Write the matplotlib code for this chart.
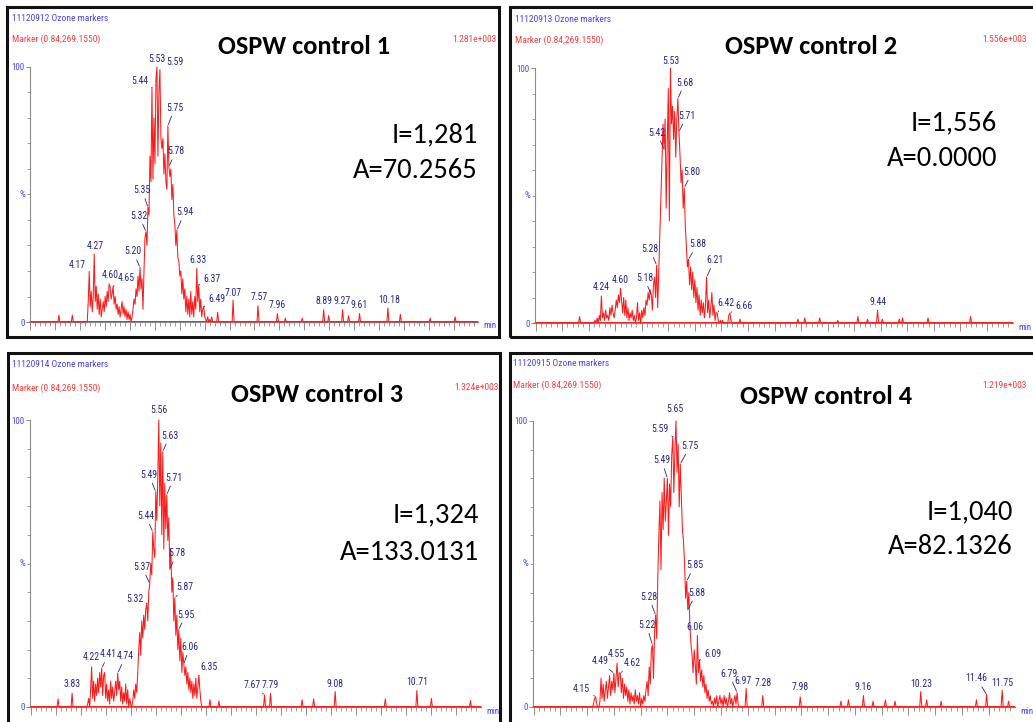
import numpy as np
import matplotlib
matplotlib.use('Agg')
import matplotlib.pyplot as plt
from matplotlib import font_manager as fm
from matplotlib.patches import Rectangle
from matplotlib.ticker import MultipleLocator

# ---------------- data ----------------
X_MIN, X_MAX = 2.99, 11.99          # retention time axis (min)
MAIN_T0 = 4.10                       # first scan of the tabulated main region
SCAN_STEP = 0.02                     # scan spacing (min)

sample_ids = ['11120912', '11120913', '11120914', '11120915']
panel_titles = ['OSPW control 1', 'OSPW control 2', 'OSPW control 3', 'OSPW control 4']
marker_text = 'Marker (0.84,269.1550)'
full_scale = ['1.281e+003', '1.556e+003', '1.324e+003', '1.219e+003']
intensity_text = ['I=1,281', 'I=1,556', 'I=1,324', 'I=1,040']
area_text = ['A=70.2565', 'A=0.0000', 'A=133.0131', 'A=82.1326']

# relative intensity (%) of the main elution region, one value per scan from 4.10 min
p1_main = [0, 0, 0, 8, 19.7, 6, 12, 4, 10, 26.6,
           8, 14, 5, 11, 3, 9, 2, 5, 8, 4,
           10, 6, 12, 8, 15, 13.8, 9, 11, 14, 7,
           10, 5, 7, 3, 6, 2, 5, 8, 3, 6,
           2, 5, 1, 4, 1, 3, 0, 2, 5, 9,
           7, 13, 10, 18, 12, 21.4, 13, 17, 5, 20,
           33, 35.4, 30, 45, 42, 65, 55, 92, 56, 80,
           62, 95, 100, 65, 90, 99, 72, 68, 72, 58,
           66, 55, 52, 77, 61, 57, 60, 48, 54, 42,
           38, 30, 36, 25, 24, 18, 20, 11, 17, 9,
           13, 4, 10, 3, 9, 2, 12, 3, 8, 2,
           10, 5, 21, 8, 14.5, 4, 9, 2, 5, 6,
           2, 1, 0, 2, 0, 1, 0, 2, 0, 0,
           0]
p2_main = [0, 1, 0, 2, 0, 3, 1, 10.6, 2, 4,
           1, 5, 2, 3, 1, 6, 3, 7, 4, 2,
           5, 9, 6, 11, 8, 13.6, 9, 4, 10, 3,
           9, 2, 6, 1, 4, 2, 5, 1, 3, 0,
           2, 8, 1, 4, 0, 5, 2, 6, 3, 9,
           7, 12, 9, 13, 11, 5, 15, 18, 10, 22.7,
           6, 20, 35, 48, 63, 78, 68, 80, 45, 70,
           92, 40, 100, 78, 85, 72, 83, 65, 80, 88,
           75, 66, 55, 60, 45, 53, 38, 30, 22, 25,
           15, 22, 13, 20, 10, 17, 8, 14, 5, 11,
           3, 9, 4, 8, 2, 7, 18, 4, 9, 2,
           6, 12, 3, 7, 1, 4, 4, 1, 0, 1,
           0, 1, 0, 0, 0, 0, 0, 3, 4, 1,
           0]
p3_main = [0, 0, 1, 3, 0, 6, 14, 3, 9, 2,
           8, 4, 10, 5, 12, 7, 13.5, 4, 11, 12,
           3, 8, 2, 6, 1, 9, 3, 7, 2, 5,
           9, 4, 11.8, 6, 9, 2, 7, 1, 5, 2,
           8, 1, 6, 0, 3, 1, 0, 2, 6, 3,
           8, 5, 12, 20, 26, 18, 30, 24, 32, 27,
           34, 36, 30, 40, 43, 50, 46, 61, 55, 52,
           75, 65, 80, 100, 70, 92, 60, 89, 55, 78,
           62, 74, 58, 66, 48, 55, 40, 45, 30, 38,
           25, 32, 20, 27, 16, 24, 12, 19, 15, 11,
           14, 8, 12, 6, 10, 5, 9, 3, 8, 4,
           10, 3, 7, 11, 6, 2, 0, 0, 0, 0,
           0, 0, 0, 0, 2.6, 0, 0, 0, 0, 0,
           0]
p4_main = [0, 1, 3, 3.6, 1, 0, 0, 2, 10, 3,
           8, 2, 6, 9, 3, 7, 11, 4, 9, 6,
           11.8, 5, 10, 15.3, 7, 12, 11.8, 5, 10, 3,
           8, 4, 7, 2, 6, 1, 5, 2, 4, 1,
           6, 2, 4, 1, 5, 0, 3, 1, 4, 2,
           6, 9, 4, 14, 8, 20, 21.7, 10, 26, 32.2,
           24, 45, 60, 72, 48, 75, 62, 80, 65, 72,
           80, 60, 78, 70, 88, 94.5, 75, 90, 100, 82,
           92, 70, 85, 73.5, 62, 58, 50, 38, 44, 34,
           40, 28, 22, 18, 12, 20, 15, 8, 25, 12,
           16.4, 9, 13, 7, 11, 5, 8, 3, 6, 2,
           4, 1, 2, 0, 3, 1, 4, 0, 2, 4,
           1, 3, 0, 4, 1, 3, 0, 2, 5, 1,
           3, 0, 2, 4, 1, 5, 1, 0, 0, 0,
           0]

# isolated small peaks outside the main region: retention time (min) and height (%)
p1_spike_t = [3.57, 3.84, 6.76, 7.07, 7.57, 7.96, 8.12, 8.46, 8.89, 8.99, 9.27, 9.39, 9.61, 10.18, 10.43, 11.03, 11.53]
p1_spike_h = [2.7, 2.7, 3.8, 8.6, 6.4, 3.3, 1.5, 1.5, 4.8, 2.5, 4.8, 2.5, 3.3, 5.5, 3.0, 1.5, 2.0]
p2_spike_t = [3.83, 6.85, 7.94, 8.07, 8.35, 8.69, 9.07, 9.25, 9.44, 9.53, 9.85, 9.91, 10.39, 11.19]
p2_spike_h = [2.5, 1.5, 1.5, 2.0, 2.0, 1.0, 2.5, 1.5, 5.0, 1.5, 1.5, 2.0, 2.0, 2.5]
p3_spike_t = [3.55, 3.83, 6.76, 7.67, 7.79, 8.42, 8.65, 9.08, 10.08, 10.71, 11.00, 11.78]
p3_spike_h = [2.8, 4.8, 2.0, 4.2, 4.8, 2.5, 2.8, 5.4, 2.8, 5.7, 3.0, 2.2]
p4_spike_t = [6.97, 7.28, 7.98, 8.74, 8.88, 9.16, 9.34, 9.57, 9.75, 10.23, 10.34, 10.61, 11.27, 11.46, 11.75, 11.87]
p4_spike_h = [6.5, 4.0, 3.5, 2.0, 2.5, 4.0, 2.0, 2.5, 2.0, 5.4, 2.5, 2.0, 2.5, 4.4, 5.8, 2.0]

# labelled peak retention times
p1_labels = [4.17, 4.27, 4.60, 4.65, 5.20, 5.32, 5.35, 5.44, 5.53, 5.59, 5.75, 5.78, 5.94,
             6.33, 6.37, 6.49, 7.07, 7.57, 7.96, 8.89, 9.27, 9.61, 10.18]
p2_labels = [4.24, 4.60, 5.18, 5.28, 5.42, 5.53, 5.68, 5.71, 5.80, 5.88, 6.21, 6.42, 6.66, 9.44]
p3_labels = [3.83, 4.22, 4.41, 4.74, 5.32, 5.37, 5.44, 5.49, 5.56, 5.63, 5.71, 5.78, 5.87,
             5.95, 6.06, 6.35, 7.67, 7.79, 9.08, 10.71]
p4_labels = [4.15, 4.49, 4.55, 4.62, 5.22, 5.28, 5.49, 5.59, 5.65, 5.75, 5.85, 5.88, 6.06,
             6.09, 6.79, 6.97, 7.28, 7.98, 9.16, 10.23, 11.46, 11.75]

# ---------------- label placement (pixel offsets: dx, dy(up), leader line) ----------------
p1_lab_pos = {'4.17': (-12, 7, 1), '4.27': (1, 8, 0), '4.60': (0, 12, 0), '4.65': (13, 8, 1),
              '5.20': (-7, 16, 1), '5.32': (-7, 16, 1), '5.35': (-6, 17, 1), '5.44': (-12, 6, 1),
              '5.53': (0, 8, 0), '5.59': (15, 8, 0), '5.75': (7, 18, 1), '5.78': (7, 15, 1),
              '5.94': (8, 18, 1), '6.33': (1, 8, 0), '6.37': (13, 6, 1), '6.49': (13, 8, 1),
              '7.07': (0, 7, 0), '7.57': (1, 9, 0), '7.96': (0, 9, 0), '8.89': (0, 9, 0),
              '9.27': (0, 9, 0), '9.61': (0, 9, 0), '10.18': (1, 8, 0)}
p2_lab_pos = {'4.24': (0, 9, 0), '4.60': (0, 8, 0), '5.18': (-7, 17, 1), '5.28': (-7, 16, 1),
              '5.42': (-7, 17, 1), '5.53': (0, 7, 0), '5.68': (7, 16, 1), '5.71': (8, 16, 1),
              '5.80': (8, 16, 1), '5.88': (9, 15, 1), '6.21': (8, 17, 1), '6.42': (9, 10, 1),
              '6.66': (14, 7, 1), '9.44': (0, 8, 0)}
p3_lab_pos = {'3.83': (0, 9, 0), '4.22': (0, 10, 0), '4.41': (7, 14, 1), '4.74': (8, 17, 1),
              '5.32': (-12, 5, 1), '5.37': (-8, 17, 1), '5.44': (-7, 16, 1), '5.49': (-7, 17, 1),
              '5.56': (0, 10, 0), '5.63': (7, 16, 1), '5.71': (7, 17, 1), '5.78': (7, 16, 1),
              '5.87': (10, 11, 1), '5.95': (7, 15, 1), '6.06': (6, 17, 1), '6.35': (10, 8, 1),
              '7.67': (-12, 10, 1), '7.79': (0, 8, 0), '9.08': (0, 8, 0), '10.71': (0, 9, 0)}
p4_lab_pos = {'4.15': (-14, 8, 1), '4.49': (-14, 12, 1), '4.55': (-1, 9, 0), '4.62': (12, 10, 1),
              '5.22': (-6, 20, 1), '5.28': (-7, 18, 1), '5.49': (-6, 18, 1), '5.59': (-13, 8, 1),
              '5.65': (-1, 12, 0), '5.75': (10, 18, 1), '5.85': (8, 16, 1), '5.88': (9, 17, 1),
              '6.06': (-2, 9, 0), '6.09': (13, 6, 1), '6.79': (-8, 19, 1), '6.97': (-3, 7, 0),
              '7.28': (0, 13, 0), '7.98': (0, 10, 0), '9.16': (0, 9, 0), '10.23': (0, 8, 0),
              '11.46': (-10, 16, 1), '11.75': (0, 7, 0)}

# ---------------- fonts & colours ----------------
_fonts = fm.fontManager.ttflist
_names = {f.name for f in _fonts}
NARROW = None
NARROW_STRETCH = 'normal'
for cand in ['Liberation Sans Narrow', 'Arial Narrow', 'Roboto Condensed',
             'Open Sans Condensed', 'Noto Sans Condensed', 'DejaVu Sans Condensed']:
    if cand in _names:
        NARROW = cand
        break
if NARROW is None and any(f.name == 'DejaVu Sans' and f.stretch == 'condensed' for f in _fonts):
    NARROW = 'DejaVu Sans'
    NARROW_STRETCH = 'condensed'
if NARROW is None:
    NARROW = 'Liberation Sans'
    SMALL_HDR, SMALL_LAB, SMALL_AX = 5.6, 6.4, 6.0
else:
    SMALL_HDR, SMALL_LAB, SMALL_AX = 6.8, 7.0, 6.5
BIG = 'Carlito' if 'Carlito' in _names else 'Lato'
plt.rcParams['font.family'] = [NARROW, 'DejaVu Sans']
plt.rcParams['font.stretch'] = NARROW_STRETCH

RED = '#ff1a1a'
RED_TXT = '#ff3b3b'
BLUE = '#4646ff'
NAVY = '#25258f'
GREY = '#8c8c8c'

W, H = 1033, 722
fig = plt.figure(figsize=(W / 100, H / 100), dpi=100)


def fx(x):
    return x / W


def fy(y):
    return 1 - y / H


panels = [
    dict(main=p1_main, st=p1_spike_t, sh=p1_spike_h, labels=p1_labels, pos=p1_lab_pos,
         frame=(7, 7, 499, 337), axes=(30, 478, 67, 322), hx=12, hy=18.5, my=39,
         vx=497, vha='right', title=(304, 47), iax=478, iy=135, ay=171),
    dict(main=p2_main, st=p2_spike_t, sh=p2_spike_h, labels=p2_labels, pos=p2_lab_pos,
         frame=(510, 7, 1045, 337), axes=(535, 1013, 68, 323), hx=515, hy=19.5, my=40,
         vx=982, vha='left', title=(811, 47), iax=997, iy=123, ay=158),
    dict(main=p3_main, st=p3_spike_t, sh=p3_spike_h, labels=p3_labels, pos=p3_lab_pos,
         frame=(8, 353, 500, 735), axes=(30, 481, 420, 707), hx=12, hy=365, my=388,
         vx=499, vha='right', title=(317, 394), iax=479, iy=515, ay=552),
    dict(main=p4_main, st=p4_spike_t, sh=p4_spike_h, labels=p4_labels, pos=p4_lab_pos,
         frame=(510, 353, 1045, 735), axes=(533, 1015, 421, 707), hx=513, hy=363, my=385,
         vx=982, vha='left', title=(826, 397), iax=1013, iy=512, ay=547),
]


def build_trace(main_vals, spike_t, spike_h):
    mt = np.round(MAIN_T0 + SCAN_STEP * np.arange(len(main_vals)), 2)
    pts = [(X_MIN, 0.0), (X_MAX, 0.0)] + [(float(t), float(v)) for t, v in zip(mt, main_vals)]
    for t, h in zip(spike_t, spike_h):
        pts += [(t - 0.02, 0.0), (t, h), (t + 0.02, 0.0)]
    pts.sort()
    arr = np.array(pts)
    return arr[:, 0], arr[:, 1]


for i, cfg in enumerate(panels):
    x0, y0, x1, y1 = cfg['frame']
    fig.add_artist(Rectangle((fx(x0), fy(y1)), fx(x1) - fx(x0), fy(y0) - fy(y1),
                             transform=fig.transFigure, fill=False, lw=2.2,
                             ec='#111111', zorder=0))
    L, R, T, B = cfg['axes']
    ax = fig.add_axes([fx(L), fy(B), (R - L) / W, (B - T) / H])
    ax.set_facecolor('none')
    ax.set_xlim(X_MIN, X_MAX)
    ax.set_ylim(0, 100)
    for s in ('top', 'right'):
        ax.spines[s].set_visible(False)
    for s in ('left', 'bottom'):
        ax.spines[s].set_color(GREY)
        ax.spines[s].set_linewidth(0.8)

    ax.xaxis.set_major_locator(MultipleLocator(0.5))
    ax.xaxis.set_minor_locator(MultipleLocator(0.1))
    ax.tick_params(axis='x', which='major', length=5.5, width=0.7, color=GREY,
                   labelbottom=False, direction='out')
    ax.tick_params(axis='x', which='minor', length=3, width=0.6, color=GREY, direction='out')
    ax.set_yticks([0, 100])
    ax.set_yticklabels(['0', '100'])
    ax.yaxis.set_minor_locator(MultipleLocator(10))
    ax.tick_params(axis='y', which='major', length=3, width=0.7, color=GREY,
                   labelcolor=BLUE, labelsize=SMALL_AX, pad=1)
    ax.tick_params(axis='y', which='minor', length=2, width=0.6, color=GREY)
    ax.annotate('%', xy=(0, 50), xycoords=('axes fraction', 'data'), xytext=(-8, 0),
                textcoords='offset pixels', ha='center', va='center', color=BLUE,
                fontsize=SMALL_AX)
    ax.annotate('min', xy=(1, 0), xycoords='axes fraction', xytext=(5, -4),
                textcoords='offset pixels', ha='left', va='center', color=BLUE,
                fontsize=SMALL_AX, annotation_clip=False)

    tt, pp = build_trace(cfg['main'], cfg['st'], cfg['sh'])
    ax.axhline(0, color=RED, lw=1.4, zorder=2)
    ax.plot(tt, pp, color=RED, lw=0.75, clip_on=False, zorder=3)

    for t in cfg['labels']:
        near = np.abs(tt - t) <= 0.011
        j = np.argmax(np.where(near, pp, -1))
        txt = f'{t:.2f}'
        dx, dy, lead = cfg['pos'][txt]
        kw = {}
        if lead:
            kw['arrowprops'] = dict(arrowstyle='-', color=NAVY, lw=0.6, shrinkA=0.5, shrinkB=1.0)
        ax.annotate(txt, xy=(tt[j], pp[j]), xytext=(dx, dy), textcoords='offset pixels',
                    ha='center', va='center', fontsize=SMALL_LAB, color=NAVY,
                    annotation_clip=False, zorder=5, **kw)

    fig.text(fx(cfg['hx']), fy(cfg['hy']), f'{sample_ids[i]} Ozone markers',
             ha='left', va='center', color=BLUE, fontsize=SMALL_HDR)
    fig.text(fx(cfg['hx']), fy(cfg['my']), marker_text,
             ha='left', va='center', color=RED_TXT, fontsize=SMALL_HDR)
    fig.text(fx(cfg['vx']), fy(cfg['my']), full_scale[i],
             ha=cfg['vha'], va='center', color=RED_TXT, fontsize=SMALL_HDR)
    cx, cy = cfg['title']
    fig.text(fx(cx), fy(cy), panel_titles[i], ha='center', va='center',
             fontsize=19, fontweight='bold', family=BIG, color='black')
    fig.text(fx(cfg['iax']), fy(cfg['iy']), intensity_text[i], ha='right', va='center',
             fontsize=20.5, family=BIG, color='black')
    fig.text(fx(cfg['iax']), fy(cfg['ay']), area_text[i], ha='right', va='center',
             fontsize=20.5, family=BIG, color='black')

fig.savefig('out.png', dpi=100, facecolor='white')
